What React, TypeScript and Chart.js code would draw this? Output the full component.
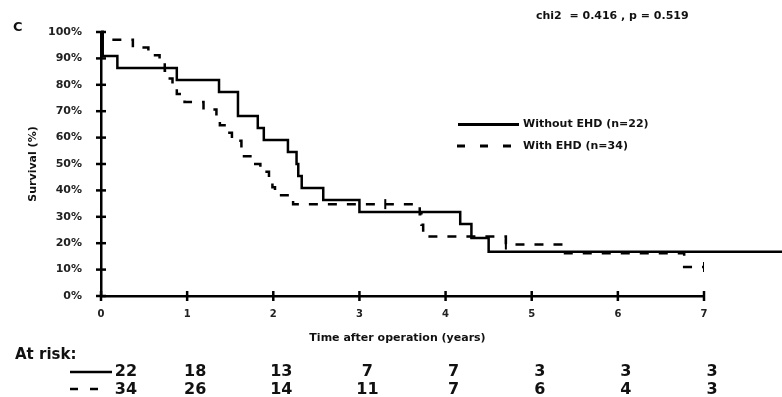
import { useEffect, useRef } from "react";
import { Chart, registerables } from "chart.js";

Chart.register(...registerables);

// Kaplan-Meier: Without EHD (n=22)
const withoutTimes = [0, 0.02, 0.19, 0.88, 1.37, 1.59, 1.82, 1.89, 2.17, 2.27, 2.29, 2.33, 2.58, 3.0, 4.17, 4.3, 4.5, 7.92];
const withoutSurvival = [100, 90.9, 86.4, 81.8, 77.3, 68.2, 63.6, 59.1, 54.5, 50.0, 45.5, 40.9, 36.4, 31.8, 27.3, 22.0, 16.8, 16.8];

// Kaplan-Meier: With EHD (n=34)
const withTimes = [0, 0.02, 0.37, 0.55, 0.68, 0.74, 0.78, 0.83, 0.88, 0.97, 1.19, 1.34, 1.38, 1.46, 1.52, 1.63, 1.66, 1.77, 1.85, 1.95, 1.99, 2.02, 2.23, 3.7, 3.72, 3.74, 4.7, 5.37, 6.77, 7.0];
const withSurvival = [100, 97.1, 94.1, 91.2, 88.2, 85.3, 82.4, 79.4, 76.5, 73.5, 70.6, 67.6, 64.7, 61.8, 58.8, 55.9, 52.9, 50.0, 47.1, 44.1, 41.2, 38.2, 34.8, 31.0, 27.0, 22.5, 19.5, 16.2, 11.0, 11.0];

// censored observations
const censorWithTimes = [3.3, 4.7, 7.0];
const censorWithSurvival = [34.8, 19.5, 11.0];

const xTickValues = [0, 1, 2, 3, 4, 5, 6, 7];
const yTickValues = [0, 10, 20, 30, 40, 50, 60, 70, 80, 90, 100];

const riskTimes = [0, 1, 2, 3, 4, 5, 6, 7];
const riskWithout = [22, 18, 13, 7, 7, 3, 3, 3];
const riskWith = [34, 26, 14, 11, 7, 6, 4, 3];

const statText = "chi2  = 0.416 , p = 0.519";
const panelLabel = "C";
const labelWithout = "Without EHD (n=22)";
const labelWith = "With EHD (n=34)";
const yTitle = "Survival (%)";
const xTitle = "Time after operation (years)";
const riskTitle = "At risk:";

const FONT = "'DejaVu Sans', sans-serif";

const decorPlugin = {
  id: "decor",
  afterDraw(chart: any) {
    const ctx = chart.ctx as CanvasRenderingContext2D;
    const xs = chart.scales.x;
    const ys = chart.scales.y;
    const area = chart.chartArea;
    ctx.save();
    ctx.strokeStyle = "#000";
    ctx.lineWidth = 2.5;
    // crossing tick marks
    for (const v of yTickValues) {
      const y = ys.getPixelForValue(v);
      ctx.beginPath();
      ctx.moveTo(area.left - 5, y);
      ctx.lineTo(area.left + 5, y);
      ctx.stroke();
    }
    for (const v of xTickValues) {
      const x = xs.getPixelForValue(v);
      ctx.beginPath();
      ctx.moveTo(x, area.bottom - 5);
      ctx.lineTo(x, area.bottom + 5);
      ctx.stroke();
    }

    ctx.fillStyle = "#111";
    ctx.textBaseline = "middle";
    // x tick labels
    ctx.textAlign = "center";
    ctx.font = `bold 10px ${FONT}`;
    ctx.fillStyle = "#222";
    for (const v of xTickValues) {
      ctx.fillText(String(v), xs.getPixelForValue(v), 314);
    }
    ctx.fillStyle = "#111";
    // panel label
    ctx.font = `bold 13px ${FONT}`;
    ctx.textAlign = "left";
    ctx.fillText(panelLabel, 13, 28);
    // stat text
    ctx.font = `bold 11px ${FONT}`;
    ctx.fillText(statText, 536, 16);

    // legend
    ctx.lineWidth = 3;
    ctx.setLineDash([]);
    ctx.beginPath();
    ctx.moveTo(458, 124.5);
    ctx.lineTo(519, 124.5);
    ctx.stroke();
    ctx.setLineDash([8, 15]);
    ctx.beginPath();
    ctx.moveTo(457, 146);
    ctx.lineTo(512, 146);
    ctx.stroke();
    ctx.setLineDash([]);
    ctx.font = `bold 11px ${FONT}`;
    ctx.fillText(labelWithout, 523, 124.5);
    ctx.fillText(labelWith, 523, 146);

    // axis titles
    ctx.textAlign = "center";
    ctx.font = `bold 11px ${FONT}`;
    ctx.fillText(xTitle, (area.left + area.right) / 2 - 5, 338);
    ctx.save();
    ctx.translate(33, (area.top + area.bottom) / 2);
    ctx.rotate(-Math.PI / 2);
    ctx.fillText(yTitle, 0, 0);
    ctx.restore();

    // at risk table
    ctx.textAlign = "left";
    ctx.font = `bold 15px ${FONT}`;
    ctx.fillText(riskTitle, 15, 355);
    ctx.lineWidth = 2.5;
    ctx.beginPath();
    ctx.moveTo(70, 372);
    ctx.lineTo(112, 372);
    ctx.stroke();
    ctx.setLineDash([8, 12]);
    ctx.beginPath();
    ctx.moveTo(70, 389);
    ctx.lineTo(102, 389);
    ctx.stroke();
    ctx.setLineDash([]);
    ctx.textAlign = "center";
    ctx.font = `bold 16px ${FONT}`;
    riskTimes.forEach((t, i) => {
      const x = xs.getPixelForValue(t) + (i === 0 ? 25 : 8);
      ctx.fillText(String(riskWithout[i]), x, 372);
      ctx.fillText(String(riskWith[i]), x, 390);
    });
    ctx.restore();
  },
};

export default function App() {
  const ref = useRef<HTMLCanvasElement | null>(null);
  useEffect(() => {
    if (!ref.current) return;
    const chart = new Chart(ref.current, {
      type: "line",
      data: {
        datasets: [
          {
            label: labelWithout,
            data: withoutTimes.map((t, i) => ({ x: t, y: withoutSurvival[i] })),
            stepped: true,
            borderColor: "#000",
            borderWidth: 2.5,
            pointRadius: 0,
            fill: false,
            clip: false as any,
          },
          {
            label: labelWith,
            data: withTimes.map((t, i) => ({ x: t, y: withSurvival[i] })),
            stepped: true,
            borderColor: "#000",
            borderWidth: 2.5,
            borderDash: [9, 10],
            pointRadius: 0,
            fill: false,
            clip: false as any,
          },
          {
            type: "scatter" as any,
            label: "censor with",
            data: censorWithTimes.map((t, i) => ({ x: t, y: censorWithSurvival[i] })),
            pointStyle: "line",
            rotation: 90,
            pointRadius: 5,
            borderColor: "#000",
            borderWidth: 2,
            showLine: false,
          },
        ],
      },
      options: {
        animation: false,
        responsive: false,
        layout: { padding: { top: 32, right: 78, left: 0, bottom: 81 } },
        plugins: { legend: { display: false }, tooltip: { enabled: false } },
        scales: {
          x: {
            type: "linear",
            min: 0,
            max: 7,
            afterFit: (s: any) => {
              s.height = 20;
            },
            ticks: { display: false, stepSize: 1 },
            grid: { display: false },
            border: { display: true, color: "#000", width: 2.5 },
          },
          y: {
            type: "linear",
            min: 0,
            max: 100,
            afterBuildTicks: (s: any) => {
              s.ticks = yTickValues.map((v) => ({ value: v }));
            },
            afterFit: (s: any) => {
              s.width = 101;
            },
            ticks: {
              font: { family: FONT, size: 11, weight: "bold" },
              color: "#222",
              padding: 11,
              callback: (v: any) => `${v}%`,
            },
            grid: { display: false },
            border: { display: true, color: "#000", width: 2.5 },
          },
        },
      },
      plugins: [decorPlugin],
    });
    return () => chart.destroy();
  }, []);
  return (
    <div style={{ position: "fixed", left: 0, top: 0, width: 782, height: 397, background: "#fff" }}>
      <canvas ref={ref} width={782} height={397} style={{ display: "block" }} />
    </div>
  );
}
